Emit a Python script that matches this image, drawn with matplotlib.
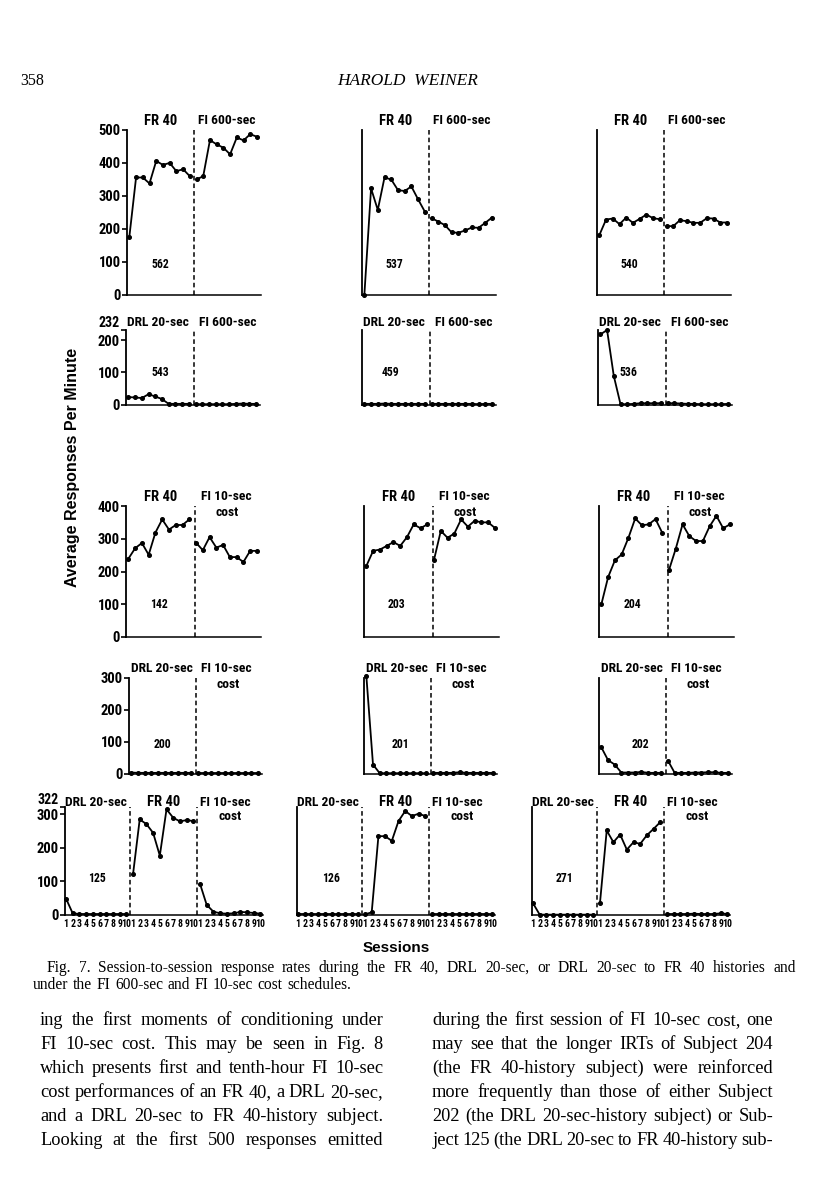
import numpy as np
import matplotlib
matplotlib.use('Agg')
import matplotlib.pyplot as plt
from matplotlib import font_manager

W, H = 816, 1200

# response rates (responses per minute, sessions 1-10 per phase)
s562_fr40 = [176, 355, 355, 337, 405, 393, 399, 374, 380, 359]
s562_fi600 = [349, 359, 468, 455, 445, 425, 476, 467, 486, 478]
s537_fr40 = [0, 322, 257, 355, 349, 317, 314, 328, 289, 252]
s537_fi600 = [232, 222, 211, 189, 188, 195, 204, 203, 218, 234]
s540_fr40 = [181, 228, 231, 214, 234, 218, 230, 243, 232, 229]
s540_fi600 = [208, 208, 226, 223, 218, 218, 232, 231, 219, 219]

s543_drl = [23, 22, 20, 32, 25, 17, 2, 2, 2, 2]
s543_fi600 = [1, 1, 1, 1, 1, 1, 2, 3, 2, 2]
s459_drl = [2, 2, 2, 3, 2, 2, 2, 2, 2, 2]
s459_fi600 = [2, 2, 2, 2, 2, 2, 2, 1, 2, 2]
s536_drl = [218, 232, 89, 1, 1, 2, 4, 4, 4, 4]
s536_fi600 = [4, 4, 3, 2, 2, 1, 1, 1, 1, 2]

s142_fr40 = [239, 271, 287, 251, 319, 359, 328, 342, 342, 359]
s142_fi10 = [288, 265, 305, 273, 281, 244, 244, 229, 263, 263]
s203_fr40 = [217, 263, 267, 278, 290, 278, 305, 344, 332, 344]
s203_fi10 = [236, 324, 303, 316, 359, 337, 355, 350, 350, 333]
s204_fr40 = [100, 183, 234, 252, 303, 362, 341, 344, 360, 318]
s204_fi10 = [205, 270, 344, 308, 293, 293, 338, 370, 332, 344]

s200_drl = [3, 2, 2, 2, 2, 2, 2, 2, 2, 2]
s200_fi10 = [3, 3, 3, 3, 3, 3, 3, 3, 3, 3]
s201_drl = [306, 28, 1, 1, 1, 1, 1, 1, 1, 1]
s201_fi10 = [2, 2, 2, 2, 4, 2, 2, 2, 2, 2]
s202_drl = [82, 42, 28, 3, 3, 3, 5, 2, 2, 2]
s202_fi10 = [40, 2, 2, 2, 3, 3, 4, 4, 2, 2]

s125_drl = [49, 5, 3, 3, 3, 3, 3, 3, 3, 3]
s125_fr40 = [121, 285, 271, 245, 177, 315, 290, 279, 283, 280]
s125_fi10 = [93, 30, 10, 5, 4, 5, 9, 8, 6, 4]
s126_drl = [3, 3, 3, 3, 3, 3, 3, 3, 3, 3]
s126_fr40 = [2, 8, 235, 235, 221, 280, 310, 295, 302, 295]
s126_fi10 = [3, 3, 3, 3, 3, 3, 3, 3, 3, 3]
s271_drl = [35, 1, 1, 1, 1, 1, 1, 1, 1, 1]
s271_fr40 = [37, 252, 217, 240, 195, 217, 212, 238, 257, 277]
s271_fi10 = [3, 3, 3, 3, 4, 3, 3, 3, 5, 3]

session_labels = ['1', '2', '3', '4', '5', '6', '7', '8', '9', '10']

caption = ["Fig. 7. Session-to-session response rates during the FR 40, DRL 20-sec, or DRL 20-sec to FR 40 histories and",
           "under the FI 600-sec and FI 10-sec cost schedules."]
body_left = ["ing the first moments of conditioning under",
             "FI 10-sec cost. This may be seen in Fig. 8",
             "which presents first and tenth-hour FI 10-sec",
             "cost performances of an FR 40, a DRL 20-sec,",
             "and a DRL 20-sec to FR 40-history subject.",
             "Looking at the first 500 responses emitted"]
body_right = ["during the first session of FI 10-sec cost, one",
              "may see that the longer IRTs of Subject 204",
              "(the FR 40-history subject) were reinforced",
              "more frequently than those of either Subject",
              "202 (the DRL 20-sec-history subject) or Sub-",
              "ject 125 (the DRL 20-sec to FR 40-history sub-"]

# pick a narrow sans for the figure lettering
avail = {f.name for f in font_manager.fontManager.ttflist}
narrow = 'DejaVu Sans'
for name in ['Liberation Sans Narrow', 'Roboto Condensed']:
    if name in avail:
        narrow = name
        break
serif = 'Liberation Serif'
sans = 'Liberation Sans'

fig = plt.figure(figsize=(W / 100, H / 100), dpi=100)
fig.patch.set_facecolor('white')


def ftext(x, y, s, **kw):
    return fig.text(x / W, 1 - y / H, s, **kw)


def label(x, y, s, size=10.5):
    ftext(x, y, s, ha='center', va='center', family=narrow, weight='bold',
          fontsize=size, stretch='condensed')


# one dict per row of panels
rows = [
    dict(base=295, top=129.5, ymax=500, yticks=[0, 100, 200, 300, 400, 500],
         lefts=[127, 362, 597], width=134, xlim=(-0.35, 19.6), dashes=[9.6],
         label_y=121, heads=[('FR 40', 34), ('FI 600-sec', 100)], num_y=265,
         panels=[([s562_fr40, s562_fi600], '562', 33),
                 ([s537_fr40, s537_fi600], '537', 32),
                 ([s540_fr40, s540_fi600], '540', 32)]),
    dict(base=404.5, top=330, ymax=232, yticks=[0, 100, 200, 232],
         lefts=[126, 362, 598], width=134, xlim=(-0.35, 19.6), dashes=[9.8],
         label_y=322, heads=[('DRL 20-sec', 32), ('FI 600-sec', 102)], num_y=372,
         panels=[([s543_drl, s543_fi600], '543', 34),
                 ([s459_drl, s459_fi600], '459', 29),
                 ([s536_drl, s536_fi600], '536', 30)]),
    dict(base=637, top=506, ymax=400, yticks=[0, 100, 200, 300, 400],
         lefts=[126, 364, 599], width=135, xlim=(-0.35, 19.6), dashes=[9.8],
         label_y=497, heads=[('FR 40', 35), ('FI 10-sec', 100), ('cost', 101, 16)], num_y=604,
         panels=[([s142_fr40, s142_fi10], '142', 33),
                 ([s203_fr40, s203_fi10], '203', 33),
                 ([s204_fr40, s204_fi10], '204', 33)]),
    dict(base=773.5, top=677.7, ymax=300, yticks=[0, 100, 200, 300],
         lefts=[129, 364, 599], width=133, xlim=(-0.35, 19.6), dashes=[9.7],
         label_y=668, heads=[('DRL 20-sec', 33), ('FI 10-sec', 97), ('cost', 99, 17)], num_y=744,
         panels=[([s200_drl, s200_fi10], '200', 33),
                 ([s201_drl, s201_fi10], '201', 36),
                 ([s202_drl, s202_fi10], '202', 41)]),
    dict(base=915, top=807, ymax=322, yticks=[0, 100, 200, 300, 322],
         lefts=[65, 297, 532], width=198, xlim=(-0.15, 29.4), dashes=[9.5, 19.6],
         label_y=802, heads=[('DRL 20-sec', 31), ('FR 40', 99), ('FI 10-sec', 160), ('cost', 165, 15)],
         num_y=878,
         panels=[([s125_drl, s125_fr40, s125_fi10], '125', 32),
                 ([s126_drl, s126_fr40, s126_fi10], '126', 34),
                 ([s271_drl, s271_fr40, s271_fi10], '271', 32)]),
]

for r, row in enumerate(rows):
    for p, (phases, subj, num_dx) in enumerate(row['panels']):
        left = row['lefts'][p]
        ax = fig.add_axes([left / W, 1 - row['base'] / H, row['width'] / W,
                           (row['base'] - row['top']) / H])
        ax.set_xlim(*row['xlim'])
        ax.set_ylim(0, row['ymax'])
        ax.spines[['top', 'right']].set_visible(False)
        ax.spines['left'].set_linewidth(1.3)
        ax.spines['bottom'].set_linewidth(1.1)
        start = 0
        for vals in phases:
            xs = np.arange(start, start + len(vals))
            ax.plot(xs, vals, '-o', color='black', lw=1.3, ms=2.6, clip_on=False)
            start += len(vals)
        for d in row['dashes']:
            ax.axvline(d, color='black', lw=1.1, ls=(0, (3, 2)))
        if p == 0:
            ax.set_yticks(row['yticks'])
            tl = ax.set_yticklabels([str(t) for t in row['yticks']], family=narrow,
                                    weight='bold', fontsize=10.5, stretch='condensed')
            # the odd top value (232, 322) sits just above its tick
            if row['yticks'][-1] % 100:
                tl[-1].set_va('bottom')
                tl[-1].set_fontsize(10)
            ax.tick_params(axis='y', direction='out', length=3.5, width=1.2, pad=1)
        else:
            ax.set_yticks([])
        if r == len(rows) - 1:
            ax.set_xticks(np.arange(start))
            ax.set_xticklabels(session_labels * len(phases), family=narrow,
                               weight='bold', fontsize=7, stretch='condensed')
            ax.tick_params(axis='x', length=0, pad=3)
        else:
            ax.set_xticks([])
        for h in row['heads']:
            dy = h[2] if len(h) > 2 else 0
            size = 10.5 if h[0] == 'FR 40' else 9.7
            label(left + h[1], row['label_y'] + dy, h[0], size)
        label(left + num_dx, row['num_y'], subj, size=8.5)

# axis titles
ftext(73, 467, 'Average Responses Per Minute', rotation=90, ha='center', va='center',
      family=sans, weight='bold', fontsize=11.5)
ftext(396, 948, 'Sessions', ha='center', va='center', family=sans, weight='bold', fontsize=11)

# page header
ftext(20, 85, '358', ha='left', va='baseline', family=serif, fontsize=11.5)
ftext(408, 85, 'HAROLD  WEINER', ha='center', va='baseline', family=serif,
      style='italic', fontsize=12.5)

renderer = fig.canvas.get_renderer()


def justify(line, x0, x1, y, size, last=False):
    words = line.split(' ')
    objs = [ftext(x0, y, w, ha='left', va='baseline', family=serif, fontsize=size) for w in words]
    widths = [o.get_window_extent(renderer).width for o in objs]
    gap = (x1 - x0 - sum(widths)) / max(len(words) - 1, 1)
    if last:
        gap = size * 0.4
    x = x0
    for o, w in zip(objs, widths):
        o.set_x(x / W)
        x += w + gap


justify(caption[0], 47, 796, 972, 11.2)
justify(caption[1], 33, 796, 989, 11.2, last=True)

for i, line in enumerate(body_left):
    justify(line, 40, 383, 1025 + 24 * i, 13.2)
for i, line in enumerate(body_right):
    justify(line, 432, 773, 1025 + 24 * i, 13.2)

fig.savefig('out.png', dpi=100, facecolor='white')
